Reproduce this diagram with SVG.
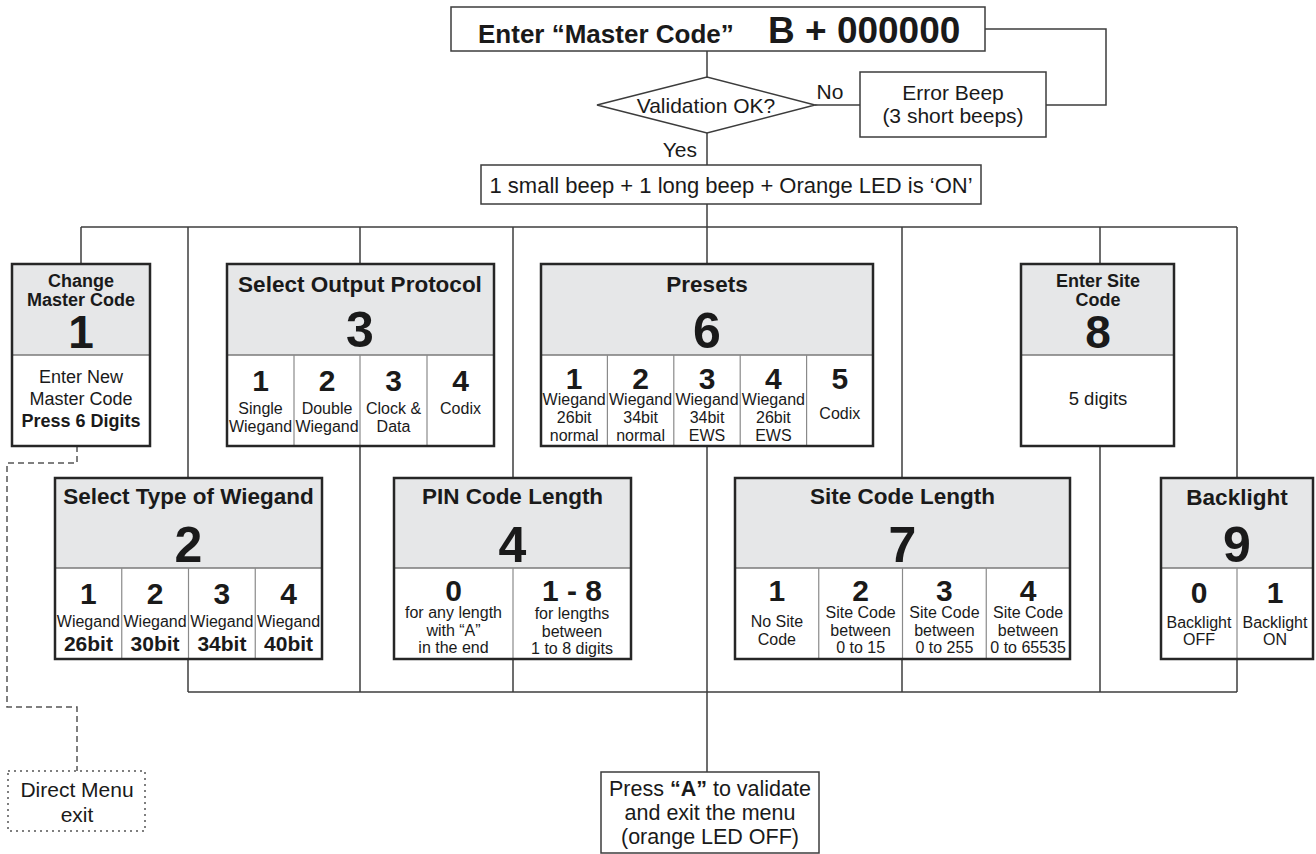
<svg xmlns="http://www.w3.org/2000/svg" width="1316" height="854" viewBox="0 0 1316 854">
<style>
.ln{stroke:#3c3c3c;stroke-width:1.5;fill:none}
.dash{stroke:#555;stroke-width:1.5;fill:none;stroke-dasharray:6 4}
.bx{fill:#fff;stroke:#3c3c3c;stroke-width:1.5}
.dot{fill:#fff;stroke:#555;stroke-width:1.5;stroke-dasharray:2 4}
.hd{fill:#e6e7e8}
.body{fill:#fff}
.out{fill:none;stroke:#262626;stroke-width:2.5}
.sep{stroke:#7a7a7a;stroke-width:1.3}
.cell{stroke:#8a8a8a;stroke-width:1.2}
text{font-family:"Liberation Sans",Arial,Helvetica,sans-serif;fill:#1a1a1a;text-anchor:middle}
.b{font-weight:bold}
.s16{font-size:16px}
.s18{font-size:18px}
.s21{font-size:21px}
.s22{font-size:22px}
.ttl{font-size:22.5px;font-weight:bold}
.d30{font-size:30px;font-weight:bold}
.d46{font-size:46px;font-weight:bold}
.d50{font-size:50px;font-weight:bold}
.st{text-anchor:start}
.en{text-anchor:end}
</style>

<g id="connectors">
  <path class="ln" d="M707,51 V77"/>
  <path class="ln" d="M815,105 H860"/>
  <path class="ln" d="M985,29 H1106 V105 H1046"/>
  <path class="ln" d="M707,133 V165"/>
  <path class="ln" d="M707,204 V264"/>
  <path class="ln" d="M81,227 H1237"/>
  <path class="ln" d="M81,227 V264"/>
  <path class="ln" d="M188,227 V478"/>
  <path class="ln" d="M360,227 V264"/>
  <path class="ln" d="M513,227 V478"/>
  <path class="ln" d="M902,227 V478"/>
  <path class="ln" d="M1100,227 V264"/>
  <path class="ln" d="M1237,227 V478"/>
  <path class="ln" d="M188,659 V692"/>
  <path class="ln" d="M360,446 V692"/>
  <path class="ln" d="M513,659 V692"/>
  <path class="ln" d="M707,446 V772"/>
  <path class="ln" d="M902,659 V692"/>
  <path class="ln" d="M1100,446 V692"/>
  <path class="ln" d="M1237,659 V692"/>
  <path class="ln" d="M188,692 H1237"/>
  <path class="dash" d="M77,446 V463 H7 V707 H77 V771"/>
  <text class="s21" x="830" y="99">No</text>
  <text class="s21 en" x="697" y="157">Yes</text>
</g>

<g id="start">
  <rect class="bx" x="451" y="7" width="534" height="44"/>
  <text class="b st" x="478" y="43" style="font-size:26px">Enter “Master Code”</text>
  <text class="b st" x="768" y="43" style="font-size:37px">B + 000000</text>
</g>

<g id="validation">
  <polygon class="bx" points="597,105 707,77 815,105 707,133"/>
  <text class="s21" x="706" y="113">Validation OK?</text>
</g>

<g id="error">
  <rect class="bx" x="860" y="72" width="186" height="65"/>
  <text class="s21" x="953" y="100">Error Beep</text>
  <text class="s21" x="953" y="123">(3 short beeps)</text>
</g>

<g id="menu-on">
  <rect class="bx" x="481" y="165" width="500" height="39"/>
  <text class="s22" x="731" y="193">1 small beep + 1 long beep + Orange LED is ‘ON’</text>
</g>

<g id="box1">
  <rect class="hd" x="12" y="264" width="138" height="91"/>
  <rect class="body" x="12" y="355" width="138" height="91"/>
  <line class="sep" x1="12" y1="355" x2="150" y2="355"/>
  <rect class="out" x="12" y="264" width="138" height="182"/>
  <text class="s18 b" x="81" y="287">Change</text>
  <text class="s18 b" x="81" y="306">Master Code</text>
  <text class="d46" x="81" y="348">1</text>
  <text class="s18" x="81" y="383">Enter New</text>
  <text class="s18" x="81" y="405">Master Code</text>
  <text class="s18 b" x="81" y="427">Press 6 Digits</text>
</g>

<g id="box3">
  <rect class="hd" x="227" y="264" width="267" height="91"/>
  <rect class="body" x="227" y="355" width="267" height="91"/>
  <line class="sep" x1="227" y1="355" x2="494" y2="355"/>
  <line class="cell" x1="294" y1="355" x2="294" y2="446"/>
  <line class="cell" x1="360" y1="355" x2="360" y2="446"/>
  <line class="cell" x1="427" y1="355" x2="427" y2="446"/>
  <rect class="out" x="227" y="264" width="267" height="182"/>
  <text class="ttl" x="360" y="292">Select Output Protocol</text>
  <text class="d50" x="360" y="347">3</text>
  <text class="d30" x="260.5" y="391">1</text>
  <text class="d30" x="327" y="391">2</text>
  <text class="d30" x="393.5" y="391">3</text>
  <text class="d30" x="460.5" y="391">4</text>
  <text class="s16" x="260.5" y="414">Single</text>
  <text class="s16" x="260.5" y="432">Wiegand</text>
  <text class="s16" x="327" y="414">Double</text>
  <text class="s16" x="327" y="432">Wiegand</text>
  <text class="s16" x="393.5" y="414">Clock &amp;</text>
  <text class="s16" x="393.5" y="432">Data</text>
  <text class="s16" x="460.5" y="414">Codix</text>
</g>

<g id="box6">
  <rect class="hd" x="541" y="264" width="332" height="91"/>
  <rect class="body" x="541" y="355" width="332" height="91"/>
  <line class="sep" x1="541" y1="355" x2="873" y2="355"/>
  <line class="cell" x1="607.4" y1="355" x2="607.4" y2="446"/>
  <line class="cell" x1="673.8" y1="355" x2="673.8" y2="446"/>
  <line class="cell" x1="740.2" y1="355" x2="740.2" y2="446"/>
  <line class="cell" x1="806.6" y1="355" x2="806.6" y2="446"/>
  <rect class="out" x="541" y="264" width="332" height="182"/>
  <text class="ttl" x="707" y="292">Presets</text>
  <text class="d50" x="707" y="348">6</text>
  <text class="d30" x="574.2" y="389">1</text>
  <text class="d30" x="640.6" y="389">2</text>
  <text class="d30" x="707" y="389">3</text>
  <text class="d30" x="773.4" y="389">4</text>
  <text class="d30" x="839.8" y="389">5</text>
  <text class="s16" x="574.2" y="405">Wiegand</text>
  <text class="s16" x="574.2" y="423">26bit</text>
  <text class="s16" x="574.2" y="441">normal</text>
  <text class="s16" x="640.6" y="405">Wiegand</text>
  <text class="s16" x="640.6" y="423">34bit</text>
  <text class="s16" x="640.6" y="441">normal</text>
  <text class="s16" x="707" y="405">Wiegand</text>
  <text class="s16" x="707" y="423">34bit</text>
  <text class="s16" x="707" y="441">EWS</text>
  <text class="s16" x="773.4" y="405">Wiegand</text>
  <text class="s16" x="773.4" y="423">26bit</text>
  <text class="s16" x="773.4" y="441">EWS</text>
  <text class="s16" x="839.8" y="419">Codix</text>
</g>

<g id="box8">
  <rect class="hd" x="1021" y="264" width="153" height="91"/>
  <rect class="body" x="1021" y="355" width="153" height="91"/>
  <line class="sep" x1="1021" y1="355" x2="1174" y2="355"/>
  <rect class="out" x="1021" y="264" width="153" height="182"/>
  <text class="s18 b" x="1098" y="287">Enter Site</text>
  <text class="s18 b" x="1098" y="306">Code</text>
  <text class="d46" x="1098" y="348">8</text>
  <text x="1098" y="405" style="font-size:18.5px">5 digits</text>
</g>

<g id="box2">
  <rect class="hd" x="55" y="478" width="267" height="90"/>
  <rect class="body" x="55" y="568" width="267" height="91"/>
  <line class="sep" x1="55" y1="568" x2="322" y2="568"/>
  <line class="cell" x1="121.75" y1="568" x2="121.75" y2="659"/>
  <line class="cell" x1="188.5" y1="568" x2="188.5" y2="659"/>
  <line class="cell" x1="255.25" y1="568" x2="255.25" y2="659"/>
  <rect class="out" x="55" y="478" width="267" height="181"/>
  <text class="ttl" x="188.5" y="504">Select Type of Wiegand</text>
  <text class="d50" x="188.5" y="562">2</text>
  <text class="d30" x="88.4" y="604">1</text>
  <text class="d30" x="155.1" y="604">2</text>
  <text class="d30" x="221.9" y="604">3</text>
  <text class="d30" x="288.6" y="604">4</text>
  <text class="s16" x="88.4" y="627">Wiegand</text>
  <text class="s16" x="155.1" y="627">Wiegand</text>
  <text class="s16" x="221.9" y="627">Wiegand</text>
  <text class="s16" x="288.6" y="627">Wiegand</text>
  <text class="b" x="88.4" y="651" style="font-size:21px">26bit</text>
  <text class="b" x="155.1" y="651" style="font-size:21px">30bit</text>
  <text class="b" x="221.9" y="651" style="font-size:21px">34bit</text>
  <text class="b" x="288.6" y="651" style="font-size:21px">40bit</text>
</g>

<g id="box4">
  <rect class="hd" x="394" y="478" width="237" height="90"/>
  <rect class="body" x="394" y="568" width="237" height="91"/>
  <line class="sep" x1="394" y1="568" x2="631" y2="568"/>
  <line class="cell" x1="513" y1="568" x2="513" y2="659"/>
  <rect class="out" x="394" y="478" width="237" height="181"/>
  <text class="ttl" x="512.5" y="504">PIN Code Length</text>
  <text class="d50" x="512.5" y="562">4</text>
  <text class="d30" x="453.5" y="601">0</text>
  <text class="d30" x="572" y="601">1 - 8</text>
  <text class="s16" x="453.5" y="618">for any length</text>
  <text class="s16" x="453.5" y="636">with “A”</text>
  <text class="s16" x="453.5" y="653">in the end</text>
  <text class="s16" x="572" y="619">for lengths</text>
  <text class="s16" x="572" y="637">between</text>
  <text class="s16" x="572" y="654">1 to 8 digits</text>
</g>

<g id="box7">
  <rect class="hd" x="735" y="478" width="335" height="90"/>
  <rect class="body" x="735" y="568" width="335" height="91"/>
  <line class="sep" x1="735" y1="568" x2="1070" y2="568"/>
  <line class="cell" x1="818.75" y1="568" x2="818.75" y2="659"/>
  <line class="cell" x1="902.5" y1="568" x2="902.5" y2="659"/>
  <line class="cell" x1="986.25" y1="568" x2="986.25" y2="659"/>
  <rect class="out" x="735" y="478" width="335" height="181"/>
  <text class="ttl" x="902.5" y="504">Site Code Length</text>
  <text class="d50" x="902.5" y="562">7</text>
  <text class="d30" x="776.9" y="601">1</text>
  <text class="d30" x="860.6" y="601">2</text>
  <text class="d30" x="944.4" y="601">3</text>
  <text class="d30" x="1028.1" y="601">4</text>
  <text class="s16" x="776.9" y="627">No Site</text>
  <text class="s16" x="776.9" y="645">Code</text>
  <text class="s16" x="860.6" y="618">Site Code</text>
  <text class="s16" x="860.6" y="636">between</text>
  <text class="s16" x="860.6" y="653">0 to 15</text>
  <text class="s16" x="944.4" y="618">Site Code</text>
  <text class="s16" x="944.4" y="636">between</text>
  <text class="s16" x="944.4" y="653">0 to 255</text>
  <text class="s16" x="1028.1" y="618">Site Code</text>
  <text class="s16" x="1028.1" y="636">between</text>
  <text class="s16" x="1028.1" y="653">0 to 65535</text>
</g>

<g id="box9">
  <rect class="hd" x="1161" y="478" width="152" height="90"/>
  <rect class="body" x="1161" y="568" width="152" height="91"/>
  <line class="sep" x1="1161" y1="568" x2="1313" y2="568"/>
  <line class="cell" x1="1237" y1="568" x2="1237" y2="659"/>
  <rect class="out" x="1161" y="478" width="152" height="181"/>
  <text class="ttl" x="1237" y="505">Backlight</text>
  <text class="d50" x="1237" y="562">9</text>
  <text class="d30" x="1199" y="603">0</text>
  <text class="d30" x="1275" y="603">1</text>
  <text class="s16" x="1199" y="628">Backlight</text>
  <text class="s16" x="1199" y="645">OFF</text>
  <text class="s16" x="1275" y="628">Backlight</text>
  <text class="s16" x="1275" y="645">ON</text>
</g>

<g id="exit-direct">
  <rect class="dot" x="8" y="771" width="137" height="60"/>
  <text class="s21" x="77" y="797">Direct Menu</text>
  <text class="s21" x="77" y="822">exit</text>
</g>

<g id="exit-validate">
  <rect class="bx" x="601" y="772" width="218" height="81"/>
  <text x="710" y="796" style="font-size:21.5px">Press <tspan class="b">“A”</tspan> to validate</text>
  <text x="710" y="820" style="font-size:21.5px">and exit the menu</text>
  <text x="710" y="844" style="font-size:21.5px">(orange LED OFF)</text>
</g>
</svg>
